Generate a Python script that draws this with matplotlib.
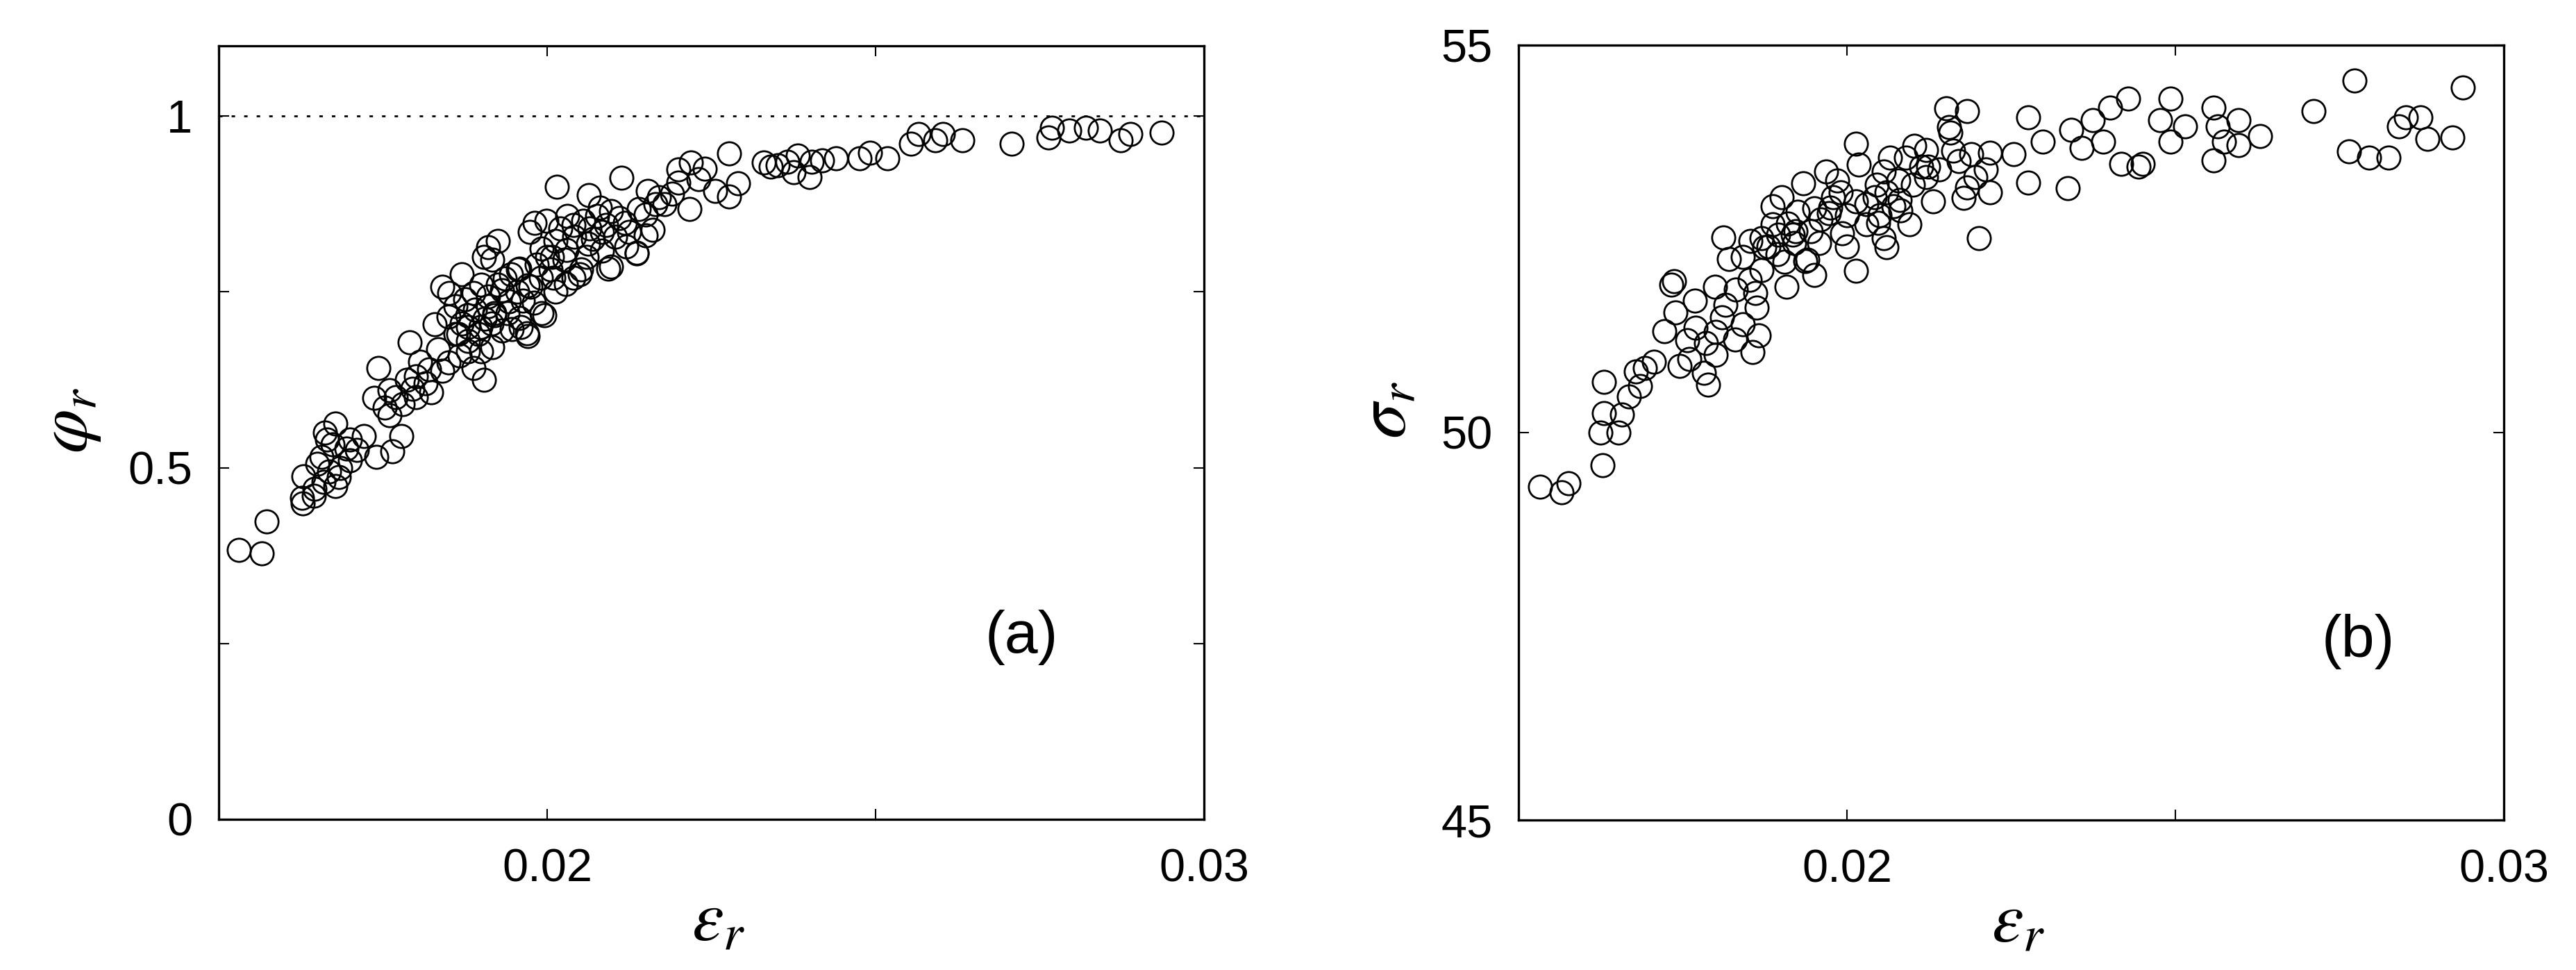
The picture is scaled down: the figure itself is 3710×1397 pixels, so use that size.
import numpy as np
import matplotlib.pyplot as plt

plt.rcParams['font.family'] = ['Liberation Sans', 'DejaVu Sans']
plt.rcParams['mathtext.fontset'] = 'stix'

# panel (a): relative strain vs phi_r
eps_a = [0.01531, 0.01566, 0.01573, 0.01628, 0.01627, 0.01629, 0.01646, 0.01678, 0.01683, 0.01656,
         0.01673, 0.01662, 0.01678, 0.01694, 0.01721, 0.01740, 0.01764, 0.01778, 0.01737, 0.01753,
         0.01780, 0.01743, 0.01791, 0.01786, 0.01824, 0.01807, 0.01840, 0.01834, 0.01829, 0.01867,
         0.01904, 0.01888, 0.01840, 0.01851, 0.01878, 0.01899, 0.01910, 0.01888, 0.01931, 0.01931,
         0.01958, 0.01969, 0.01996, 0.01975, 0.01904, 0.01910, 0.01958, 0.02007, 0.02029, 0.02050,
         0.02093, 0.02136, 0.01650, 0.01700, 0.01668, 0.01760, 0.01800, 0.01815, 0.01860, 0.01880,
         0.01900, 0.01870, 0.01920,
         0.02015, 0.02063, 0.02113, 0.02153, 0.02179, 0.02200, 0.02219, 0.02217, 0.02256, 0.02277,
         0.02291, 0.02277, 0.02330, 0.02351, 0.02375, 0.01981, 0.01974, 0.01999, 0.02031, 0.02055,
         0.02076, 0.02097, 0.02118, 0.02140, 0.02161, 0.02136, 0.02097, 0.02083, 0.02062, 0.02041,
         0.02013, 0.01992, 0.02052, 0.02026, 0.02005, 0.01984, 0.01956, 0.01925, 0.01917, 0.01935,
         0.01970, 0.02013, 0.01992, 0.01970, 0.01946, 0.01920, 0.01910, 0.01942, 0.01963, 0.01917,
         0.02083, 0.02104, 0.02125,
         0.02340, 0.02366, 0.02382, 0.02403, 0.02400, 0.02419, 0.02440, 0.02476, 0.02491, 0.02518,
         0.02554, 0.02565, 0.02591, 0.02602, 0.02632, 0.02707, 0.02763, 0.02768, 0.02795, 0.02820,
         0.02841, 0.02873, 0.02888, 0.02935,
         0.01860, 0.01875, 0.01890, 0.01905, 0.01880, 0.01895, 0.01915, 0.01850, 0.01865, 0.01925,
         0.01945, 0.01900, 0.01955, 0.01940, 0.01960, 0.01980, 0.01990, 0.01870, 0.01820, 0.01850,
         0.01880, 0.01800,
         0.02020, 0.02040, 0.02065, 0.02090, 0.02110, 0.02030, 0.02070, 0.02000, 0.02060, 0.02120,
         0.02150, 0.02170, 0.02190, 0.02200, 0.02230, 0.02240, 0.02165, 0.02010, 0.02040, 0.02150,
         0.02080,
         0.01665, 0.01685, 0.01660, 0.01700, 0.01645, 0.01710, 0.01760, 0.01770, 0.01795]
phi_a = [0.383, 0.378, 0.424, 0.449, 0.457, 0.488, 0.470, 0.474, 0.487, 0.515,
         0.533, 0.550, 0.563, 0.527, 0.545, 0.515, 0.523, 0.545, 0.599, 0.585,
         0.590, 0.642, 0.678, 0.625, 0.607, 0.651, 0.638, 0.668, 0.704, 0.660,
         0.625, 0.642, 0.757, 0.748, 0.717, 0.700, 0.730, 0.748, 0.752, 0.695,
         0.713, 0.691, 0.717, 0.757, 0.800, 0.814, 0.783, 0.800, 0.761, 0.775,
         0.783, 0.805, 0.505, 0.510, 0.495, 0.610, 0.600, 0.620, 0.690, 0.680,
         0.665, 0.705, 0.720,
         0.899, 0.888, 0.912, 0.894, 0.875, 0.924, 0.934, 0.868, 0.894, 0.947,
         0.904, 0.886, 0.934, 0.930, 0.920, 0.848, 0.835, 0.851, 0.858, 0.851,
         0.858, 0.865, 0.848, 0.868, 0.838, 0.806, 0.786, 0.809, 0.819, 0.828,
         0.822, 0.812, 0.782, 0.796, 0.782, 0.789, 0.782, 0.822, 0.796, 0.769,
         0.759, 0.750, 0.720, 0.687, 0.697, 0.717, 0.743, 0.737, 0.738, 0.671,
         0.835, 0.828, 0.835,
         0.928, 0.935, 0.944, 0.935, 0.913, 0.937, 0.940, 0.940, 0.948, 0.940,
         0.961, 0.975, 0.966, 0.975, 0.966, 0.961, 0.970, 0.983, 0.979, 0.983,
         0.979, 0.966, 0.975, 0.977,
         0.730, 0.740, 0.725, 0.712, 0.700, 0.690, 0.705, 0.715, 0.690, 0.760,
         0.775, 0.760, 0.750, 0.720, 0.700, 0.735, 0.770, 0.775, 0.640, 0.650,
         0.665, 0.630,
         0.840, 0.845, 0.840, 0.845, 0.855, 0.810, 0.825, 0.800, 0.800, 0.815,
         0.860, 0.885, 0.890, 0.905, 0.910, 0.925, 0.875, 0.770, 0.770, 0.830,
         0.870,
         0.540, 0.500, 0.480, 0.540, 0.460, 0.525, 0.575, 0.600, 0.612]

# panel (b): relative strain vs sigma_r
eps_b = [0.01533, 0.01565, 0.01576, 0.01628, 0.01625, 0.01630, 0.01630, 0.01652, 0.01657, 0.01668,
         0.01685, 0.01679, 0.01692, 0.01706, 0.01722, 0.01733,
         0.01812, 0.01820, 0.01737, 0.01768, 0.01739, 0.01799, 0.01831, 0.01810, 0.01841, 0.01863,
         0.01866, 0.01856, 0.01757, 0.01785, 0.01745, 0.01782, 0.01789, 0.01852, 0.01870, 0.01887,
         0.01901, 0.01933, 0.01950, 0.01968, 0.02014, 0.02018, 0.02056, 0.01979, 0.02014, 0.02042,
         0.02071, 0.02095, 0.02102, 0.02113, 0.02155, 0.02183, 0.02151, 0.02162, 0.02183, 0.02218,
         0.02218, 0.02211, 0.02131, 0.02201, 0.02014, 0.02060, 0.02056, 0.01950, 0.01908, 0.01894,
         0.01922, 0.01958, 0.01993, 0.02029, 0.01887, 0.01841, 0.01937, 0.01972, 0.02078,
         0.01918, 0.01940, 0.02048, 0.02081, 0.02124, 0.02157, 0.02178, 0.02189, 0.01853, 0.01874,
         0.02254, 0.02276, 0.02276, 0.02298, 0.02336, 0.02341, 0.02357, 0.02374, 0.02390, 0.02401,
         0.02417, 0.02428, 0.02444, 0.02450, 0.02477, 0.02493, 0.02493, 0.02515, 0.02558, 0.02558,
         0.02564, 0.02574, 0.02596, 0.02596, 0.02629, 0.02710, 0.02764, 0.02773, 0.02795, 0.02824,
         0.02840, 0.02851, 0.02873, 0.02884, 0.02922, 0.02938,
         0.01880, 0.01895, 0.01910, 0.01925, 0.01905, 0.01920, 0.01945, 0.01960, 0.01975, 0.01990,
         0.02000, 0.02030, 0.02045, 0.02060, 0.02080, 0.02100, 0.02120, 0.02140, 0.02050, 0.02000,
         0.01870, 0.01860, 0.01815, 0.01800, 0.01830, 0.01770, 0.01760, 0.01800, 0.02170, 0.02195,
         0.02120, 0.02090, 0.02065, 0.01985]
sig_b = [49.30, 49.23, 49.35, 49.58, 50.00, 50.25, 50.65, 50.00, 50.23, 50.47,
         50.60, 50.79, 50.83, 50.91, 51.31, 51.91,
         52.52, 52.24, 51.95, 51.70, 51.55, 51.88, 51.85, 51.49, 51.40, 51.61,
         51.25, 51.04, 51.19, 51.16, 50.86, 50.77, 50.62, 51.97, 52.51, 52.92,
         53.04, 53.22, 52.89, 53.37, 53.73, 53.46, 53.37, 53.04, 52.98, 53.04,
         52.92, 52.69, 53.70, 53.43, 53.94, 54.15, 54.18, 53.64, 53.16, 53.10,
         53.61, 53.40, 52.98, 52.51, 52.09, 52.39, 52.51, 52.03, 51.88, 52.30,
         52.60, 52.45, 52.57, 52.69, 52.69, 52.27, 52.21, 52.83, 53.25,
         52.55, 52.23, 52.71, 52.87, 53.43, 53.87, 53.03, 53.59, 52.47, 52.39,
         53.59, 54.07, 53.23, 53.75, 53.15, 53.91, 53.67, 54.03, 53.75, 54.19,
         53.47, 54.31, 53.43, 53.47, 54.03, 54.31, 53.75, 53.95, 54.19, 53.51,
         53.95, 53.75, 54.03, 53.71, 53.83, 54.15, 53.63, 54.54, 53.55, 53.55,
         53.95, 54.07, 54.07, 53.79, 53.81, 54.45,
         52.40, 52.55, 52.70, 52.85, 52.20, 52.45, 52.60, 52.75, 52.90, 53.10,
         52.80, 52.95, 53.20, 53.10, 53.00, 53.20, 53.30, 53.40, 52.80, 52.40,
         52.10, 51.80, 51.65, 51.30, 51.20, 51.35, 50.95, 51.00, 53.50, 53.30,
         53.65, 53.55, 53.55, 53.25]

x_ticks = [0.015, 0.02, 0.025, 0.03]
x_labels = ['', '0.02', '', '0.03']

fig = plt.figure(figsize=(37.1, 13.97), dpi=100)
ax1 = fig.add_axes([0.0849, 0.1554, 0.3825, 0.7974])
ax2 = fig.add_axes([0.5895, 0.1546, 0.3825, 0.7989])

for ax in (ax1, ax2):
    ax.set_xlim(0.015, 0.03)
    ax.set_xticks(x_ticks)
    ax.set_xticklabels(x_labels)
    ax.tick_params(direction='in', top=True, right=True, length=11, width=1.5,
                   labelsize=48, pad=27)
    ax.tick_params(axis='x', pad=30)
    for s in ax.spines.values():
        s.set_linewidth(2.4)
    ax.set_xlabel(r'$\varepsilon_r$', fontsize=74)
    ax.xaxis.set_label_coords(0.507, -0.09)

ax1.plot(eps_a, phi_a, 'o', mfc='none', mec='black', ms=24, mew=2.0)
ax1.axhline(1.0, color='black', lw=2, linestyle=(0, (1.8, 4.7)))
ax1.set_ylim(0, 1.1)
ax1.set_yticks([0, 0.25, 0.5, 0.75, 1.0])
ax1.set_yticklabels(['0', '', '0.5', '', '1'])
ax1.set_ylabel(r'$\varphi_r$', fontsize=74)
ax1.yaxis.set_label_coords(-0.118, 0.516)
ax1.text(0.02722, 0.259, '(a)', fontsize=62, ha='center', va='center')

ax2.plot(eps_b, sig_b, 'o', mfc='none', mec='black', ms=24, mew=2.0)
ax2.set_ylim(45, 55)
ax2.set_yticks([45, 50, 55])
ax2.set_ylabel(r'$\sigma_r$', fontsize=74)
ax2.yaxis.set_label_coords(-0.099, 0.529)
ax2.text(0.02778, 47.3, '(b)', fontsize=62, ha='center', va='center')

plt.savefig('out.png', dpi=100)
